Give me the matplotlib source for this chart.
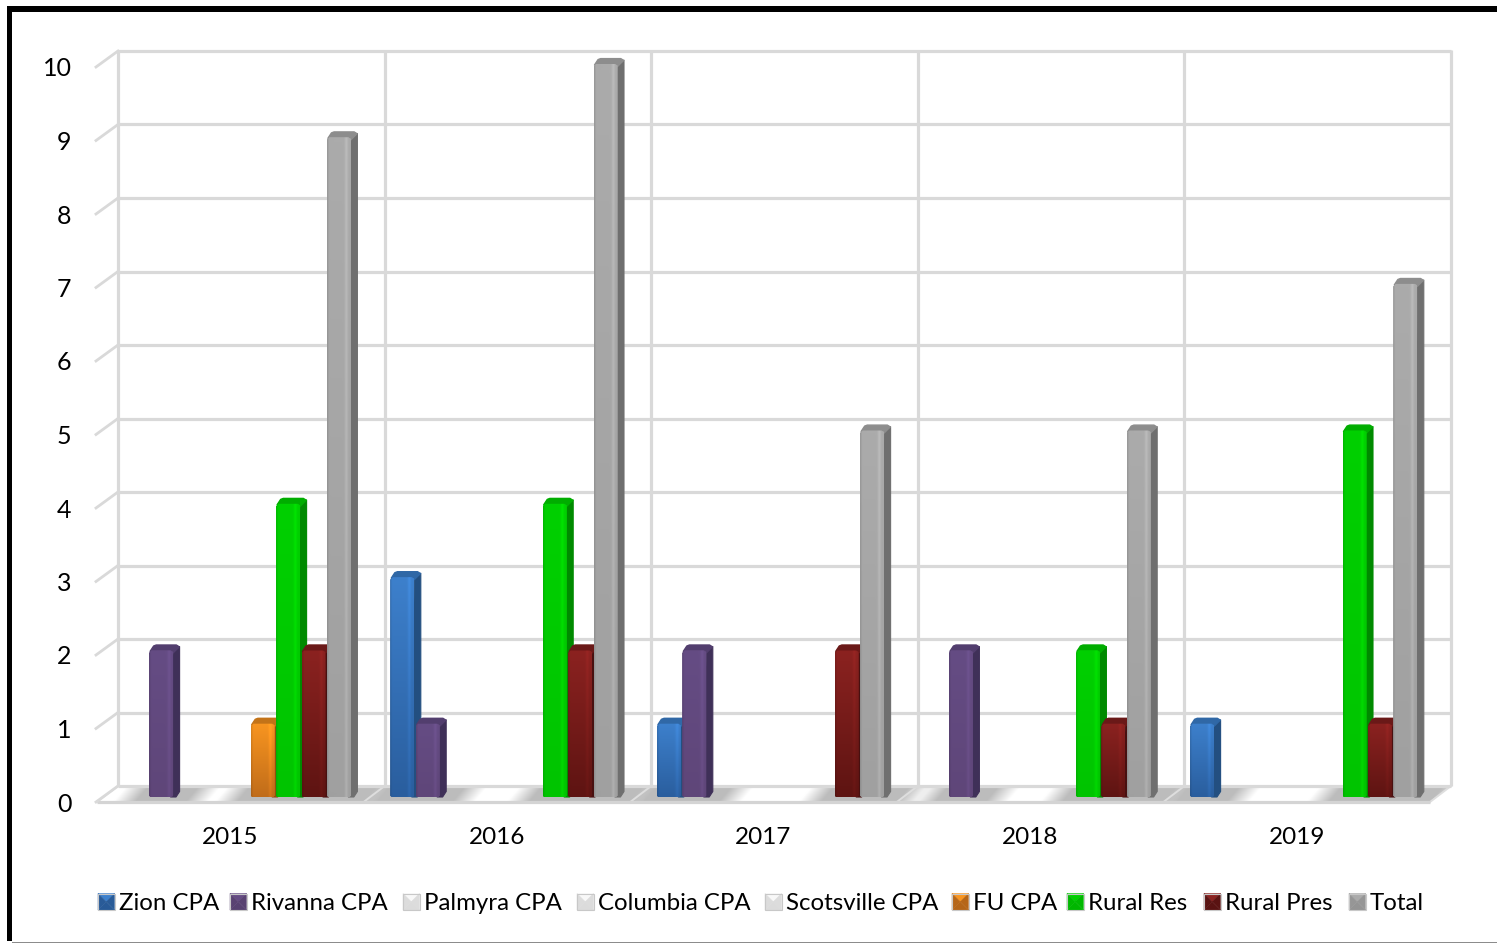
import numpy as np
import matplotlib
import matplotlib.pyplot as plt
from matplotlib.patches import Polygon, Rectangle
from matplotlib.colors import to_rgb

matplotlib.use('Agg')
plt.rcParams['font.family'] = ['Lato', 'DejaVu Sans']

years = ['2015', '2016', '2017', '2018', '2019']
series_names = ['Zion CPA', 'Rivanna CPA', 'Palmyra CPA', 'Columbia CPA', 'Scotsville CPA',
                'FU CPA', 'Rural Res', 'Rural Pres', 'Total']

zion = [0, 3, 1, 0, 1]
rivanna = [2, 1, 2, 2, 0]
palmyra = [0, 0, 0, 0, 0]
columbia = [0, 0, 0, 0, 0]
scotsville = [0, 0, 0, 0, 0]
fu = [1, 0, 0, 0, 0]
rural_res = [4, 4, 0, 2, 5]
rural_pres = [2, 2, 2, 1, 1]
total = [9, 10, 5, 5, 7]

y_ticks = list(range(11))

# top, bottom and side colour of each series
top_colors = ['#3d80cc', '#654c84', '#f8f8f8', '#f8f8f8', '#f8f8f8', '#f89520', '#00d000', '#8b2220', '#ababab']
bottom_colors = ['#2a5e9e', '#5f4679', '#e2e2e2', '#e2e2e2', '#e2e2e2', '#c06c1a', '#00c400', '#5e1412', '#a0a0a0']
side_colors = ['#234f80', '#3f3058', '#c4c4c4', '#c4c4c4', '#c4c4c4', '#8f5010', '#008a00', '#481010', '#6f6f6f']
legend_x = [98, 230, 403, 577, 765, 952, 1067, 1204, 1349]

# figure layout in pixels
W, H = 1497, 943
LEFT, BASE = 97, 797
CAT_W, UNIT = 266.6, 73.3
DX, DY = 21, 16
FLOOR_Y = 802
WALL_UNIT = 73.5
BAR_OFFSET, BAR_STEP, BAR_W = 26.7, 25.4, 24
SIDE_W, CAP_H = 6.5, 5.5
GRID = '#d9d9d9'


def px(x, y):
    """Pixel position to data position."""
    return (x - LEFT) / CAT_W, (BASE - y) / UNIT


def shaded_face(top, bottom):
    """RGB array for a bar front: darker towards the bottom with a soft bevel on the right."""
    rows = np.linspace(0, 1, 64)[:, None, None]
    face = np.array(to_rgb(top))[None, None, :] * (1 - rows) + np.array(to_rgb(bottom))[None, None, :] * rows
    cols = np.linspace(0, 1, 24)
    bevel = 1 + 0.09 * np.exp(-((cols - 0.82) / 0.07) ** 2) - 0.10 * np.exp(-(cols / 0.05) ** 2)
    return np.clip(face * bevel[None, :, None], 0, 1)


def draw_bar(ax, x, value, s, z):
    w = BAR_W / CAT_W
    sx, cy = SIDE_W / CAT_W, CAP_H / UNIT
    cx_small, cy_small = 2.5 / CAT_W, 2.5 / UNIT
    side = side_colors[s]
    ax.add_patch(Polygon([(x + w - cx_small, 0), (x + w, value), (x + w + sx, value + cy * 0.7),
                          (x + w + sx, cy * 1.0), (x + w + sx * 0.45, 0)],
                         facecolor=side, edgecolor=side, linewidth=0.8, joinstyle='round', zorder=z))
    cap = [(x + cx_small * 0.4, value - cy_small * 0.4), (x + sx * 0.7, value + cy * 0.8),
           (x + sx * 1.1, value + cy * 0.98), (x + w + sx * 0.5, value + cy * 0.98),
           (x + w + sx * 0.95, value + cy * 0.65), (x + w + sx * 0.55, value + cy * 0.2),
           (x + w, value - cy_small)]
    cap_color = 0.5 * np.array(to_rgb(top_colors[s])) + 0.5 * np.array(to_rgb(side))
    ax.add_patch(Polygon(cap, facecolor=cap_color, edgecolor=cap_color, linewidth=1.0,
                         joinstyle='round', zorder=z + 0.1))
    # front face with trimmed corners
    outline = Polygon([(x, cy_small * 0.5), (x + cx_small * 0.6, 0), (x + w - cx_small * 0.6, 0),
                       (x + w, cy_small * 0.5), (x + w, value - cy_small * 0.6),
                       (x + w - cx_small, value), (x + cx_small, value), (x, value - cy_small)],
                      transform=ax.transData)
    rect = ax.bar(x, value, width=w, align='edge', color=bottom_colors[s], linewidth=0, zorder=z + 0.2)[0]
    rect.set_clip_path(outline)
    im = ax.imshow(shaded_face(top_colors[s], bottom_colors[s]), extent=(x, x + w, 0, value),
                   aspect='auto', interpolation='bilinear', zorder=z + 0.3)
    im.set_clip_path(outline)


def draw_floor(ax, bars):
    floor = Polygon([px(LEFT, FLOOR_Y), px(LEFT + DX, FLOOR_Y - DY),
                     px(LEFT + DX + 5 * CAT_W, FLOOR_Y - DY), px(LEFT + 5 * CAT_W, FLOOR_Y)],
                    facecolor='white', edgecolor='none', zorder=1)
    ax.add_patch(floor)
    xs = np.arange(LEFT, LEFT + DX + 5 * CAT_W + 1)
    ys = np.arange(FLOOR_Y - DY, FLOOR_Y + 1)
    clear = np.ones((len(ys), len(xs)))
    for x0, x1 in bars:
        for i, y in enumerate(ys):
            shift = (BASE - y) * 0.8
            dist = np.maximum(np.maximum(x0 + shift - xs, xs - (x1 + shift)), 0)
            clear[i] *= 1 - np.clip((32 - dist) / 22, 0, 1)
    shade = 0.74 + 0.26 * clear
    im = ax.imshow(np.dstack([shade] * 3), extent=(px(xs[0], 0)[0], px(xs[-1], 0)[0],
                                                   px(0, ys[-1])[1], px(0, ys[0])[1]),
                   aspect='auto', interpolation='bilinear', zorder=1.5)
    im.set_clip_path(floor)


def draw_swatch(ax, x, s):
    size = 16.5
    y0, y1 = 893.5, 910
    mid = (x + size / 2, (y0 + y1) / 2)
    corners = [(x, y0), (x + size, y0), (x + size, y1), (x, y1)]
    top = np.array(to_rgb(top_colors[s]))
    low = np.array(to_rgb(bottom_colors[s]))
    side = np.array(to_rgb(side_colors[s]))
    fills = [top, 0.8 * low + 0.2 * side, 0.75 * low + 0.25 * side, 0.8 * low + 0.2 * side]
    for i, fill in enumerate(fills):
        pts = [px(*corners[i]), px(*corners[(i + 1) % 4]), px(*mid)]
        ax.add_patch(Polygon(pts, facecolor=fill, edgecolor=fill, linewidth=0.3, zorder=5))
    ax.add_patch(Polygon([px(*p) for p in corners], fill=False, edgecolor='#c8c8c8', linewidth=0.8, zorder=5.1))


series = [zion, rivanna, palmyra, columbia, scotsville, fu, rural_res, rural_pres, total]

fig = plt.figure(figsize=(W / 100, H / 100), dpi=100)
ax = fig.add_axes([0, 0, 1, 1])
ax.axis('off')

# back wall
wall_left = LEFT + DX
wall_right = wall_left + 5 * CAT_W
wall_base = FLOOR_Y - DY
for v in y_ticks:
    y = wall_base - v * WALL_UNIT
    xa, ya = px(wall_left, y)
    xb, _ = px(wall_right, y)
    ax.plot([xa, xb], [ya, ya], color=GRID, lw=2.3, solid_capstyle='butt', zorder=2)
    x0, y0 = px(LEFT - 1, y + DY)
    ax.plot([x0, xa], [y0, ya], color=GRID, lw=2.0, zorder=2)
    ax.text(*px(71.5, y + DY + 2), str(v), ha='right', va='center', fontsize=18, color='black')
for i in range(6):
    x = wall_left + i * CAT_W
    xa, ya = px(x, wall_base)
    _, yb = px(x, wall_base - 10 * WALL_UNIT - 1)
    ax.plot([xa, xa], [ya, yb], color=GRID, lw=2.3, solid_capstyle='butt', zorder=2)

# floor with the soft shadows around the bars
bar_spans = []
for s, vals in enumerate(series):
    for c, v in enumerate(vals):
        if v > 0:
            x0 = LEFT + c * CAT_W + BAR_OFFSET + s * BAR_STEP
            bar_spans.append((x0, x0 + BAR_W + SIDE_W))
draw_floor(ax, bar_spans)
for i in range(6):
    xa, ya = px(LEFT + i * CAT_W, FLOOR_Y)
    xb, yb = px(wall_left + i * CAT_W, wall_base)
    ax.plot([xa, xb], [ya, yb], color='#dedede', lw=1.4, zorder=1.8)
xa, ya = px(LEFT, FLOOR_Y)
xb, _ = px(LEFT + 5 * CAT_W, FLOOR_Y)
ax.plot([xa, xb], [ya, ya], color='#d4d4d4', lw=2.3, solid_capstyle='butt', zorder=1.8)

# bars, left to right so each one sits over the side of the previous
z = 10
for c in range(len(years)):
    for s, vals in enumerate(series):
        if vals[c] > 0:
            draw_bar(ax, c + (BAR_OFFSET + s * BAR_STEP) / CAT_W, vals[c], s, z)
        z += 1

for c, year in enumerate(years):
    ax.text(*px(LEFT + (c + 0.5) * CAT_W, 837), year, ha='center', va='center', fontsize=17.5, color='black')

for s, name in enumerate(series_names):
    draw_swatch(ax, legend_x[s], s)
    ax.text(*px(legend_x[s] + 21, 903), name, ha='left', va='center', fontsize=17.3, color='black')

ax.set_xlim(px(0, 0)[0], px(W, 0)[0])
ax.set_ylim(px(0, H)[1], px(0, 0)[1])

# picture frame
frame_color = 'black'
fig.add_artist(Rectangle((7 / W, 1 - 941 / H), 5.5 / W, 935 / H, transform=fig.transFigure, color=frame_color, lw=0))
fig.add_artist(Rectangle((7 / W, 1 - 11.5 / H), 1 - 7 / W, 5.5 / H, transform=fig.transFigure, color=frame_color, lw=0))
fig.add_artist(Rectangle((12 / W, 1 - 943 / H), 1 - 12 / W, 1.5 / H, transform=fig.transFigure, color='#8c8c8c', lw=0))

fig.savefig('out.png', dpi=100, facecolor='white')
